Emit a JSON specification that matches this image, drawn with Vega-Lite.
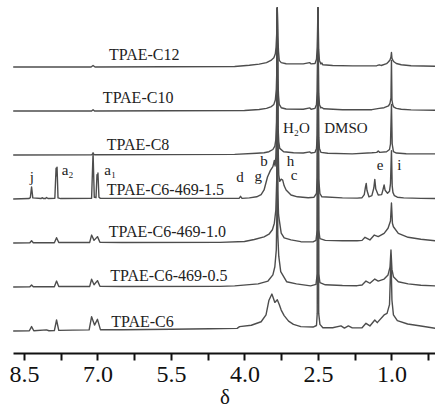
{
"$schema": "https://vega.github.io/schema/vega-lite/v6.json",
"padding": {"left": 8, "top": 7, "right": 0, "bottom": 0},
"background": "white",
"bounds": "flush",
"data": {"values": [
{"s":"TPAE-C12","x":8.72,"y":0},{"s":"TPAE-C12","x":7.13,"y":0},{"s":"TPAE-C12","x":7.09,"y":0.07},{"s":"TPAE-C12","x":7.05,"y":0},{"s":"TPAE-C12","x":4.2,"y":0.02},{"s":"TPAE-C12","x":3.9,"y":0.08},{"s":"TPAE-C12","x":3.7,"y":0.13},{"s":"TPAE-C12","x":3.55,"y":0.2},{"s":"TPAE-C12","x":3.46,"y":0.3},{"s":"TPAE-C12","x":3.4,"y":0.42},{"s":"TPAE-C12","x":3.37,"y":0.6},{"s":"TPAE-C12","x":3.355,"y":0.9},{"s":"TPAE-C12","x":3.34,"y":1.6},{"s":"TPAE-C12","x":3.33,"y":2.68},{"s":"TPAE-C12","x":3.32,"y":1.4},{"s":"TPAE-C12","x":3.305,"y":0.7},{"s":"TPAE-C12","x":3.29,"y":0.3},{"s":"TPAE-C12","x":3.25,"y":0.2},{"s":"TPAE-C12","x":3.15,"y":0.15},{"s":"TPAE-C12","x":2.8,"y":0.14},{"s":"TPAE-C12","x":2.67,"y":0.2},{"s":"TPAE-C12","x":2.64,"y":0.14},{"s":"TPAE-C12","x":2.56,"y":0.16},{"s":"TPAE-C12","x":2.53,"y":0.35},{"s":"TPAE-C12","x":2.515,"y":0.9},{"s":"TPAE-C12","x":2.5,"y":2.68},{"s":"TPAE-C12","x":2.485,"y":0.8},{"s":"TPAE-C12","x":2.47,"y":0.3},{"s":"TPAE-C12","x":2.44,"y":0.14},{"s":"TPAE-C12","x":2.42,"y":0.18},{"s":"TPAE-C12","x":2.4,"y":0.1},{"s":"TPAE-C12","x":2.2,"y":0.07},{"s":"TPAE-C12","x":1.8,"y":0.05},{"s":"TPAE-C12","x":1.3,"y":0.06},{"s":"TPAE-C12","x":1.25,"y":0.1},{"s":"TPAE-C12","x":1.21,"y":0.07},{"s":"TPAE-C12","x":1.1,"y":0.15},{"s":"TPAE-C12","x":1.06,"y":0.24},{"s":"TPAE-C12","x":1.03,"y":0.32},{"s":"TPAE-C12","x":1.01,"y":0.45},{"s":"TPAE-C12","x":1.0,"y":0.66},{"s":"TPAE-C12","x":0.99,"y":0.4},{"s":"TPAE-C12","x":0.97,"y":0.3},{"s":"TPAE-C12","x":0.95,"y":0.24},{"s":"TPAE-C12","x":0.9,"y":0.16},{"s":"TPAE-C12","x":0.8,"y":0.1},{"s":"TPAE-C12","x":0.6,"y":0.06},{"s":"TPAE-C12","x":0.09,"y":0.03},

{"s":"TPAE-C10","x":8.72,"y":0},{"s":"TPAE-C10","x":7.12,"y":0},{"s":"TPAE-C10","x":7.09,"y":0.06},{"s":"TPAE-C10","x":7.06,"y":0},{"s":"TPAE-C10","x":4.0,"y":0.02},{"s":"TPAE-C10","x":3.7,"y":0.07},{"s":"TPAE-C10","x":3.55,"y":0.12},{"s":"TPAE-C10","x":3.45,"y":0.2},{"s":"TPAE-C10","x":3.4,"y":0.3},{"s":"TPAE-C10","x":3.37,"y":0.5},{"s":"TPAE-C10","x":3.35,"y":1.0},{"s":"TPAE-C10","x":3.34,"y":1.8},{"s":"TPAE-C10","x":3.33,"y":4.68},{"s":"TPAE-C10","x":3.32,"y":1.5},{"s":"TPAE-C10","x":3.305,"y":0.7},{"s":"TPAE-C10","x":3.29,"y":0.3},{"s":"TPAE-C10","x":3.25,"y":0.15},{"s":"TPAE-C10","x":3.15,"y":0.09},{"s":"TPAE-C10","x":2.8,"y":0.08},{"s":"TPAE-C10","x":2.665,"y":0.14},{"s":"TPAE-C10","x":2.64,"y":0.08},{"s":"TPAE-C10","x":2.56,"y":0.12},{"s":"TPAE-C10","x":2.53,"y":0.3},{"s":"TPAE-C10","x":2.515,"y":0.9},{"s":"TPAE-C10","x":2.5,"y":4.68},{"s":"TPAE-C10","x":2.485,"y":0.8},{"s":"TPAE-C10","x":2.47,"y":0.3},{"s":"TPAE-C10","x":2.44,"y":0.14},{"s":"TPAE-C10","x":2.42,"y":0.16},{"s":"TPAE-C10","x":2.38,"y":0.1},{"s":"TPAE-C10","x":2.0,"y":0.06},{"s":"TPAE-C10","x":1.4,"y":0.06},{"s":"TPAE-C10","x":1.25,"y":0.12},{"s":"TPAE-C10","x":1.15,"y":0.15},{"s":"TPAE-C10","x":1.06,"y":0.23},{"s":"TPAE-C10","x":1.03,"y":0.35},{"s":"TPAE-C10","x":1.01,"y":0.6},{"s":"TPAE-C10","x":1.0,"y":2.3},{"s":"TPAE-C10","x":0.99,"y":0.5},{"s":"TPAE-C10","x":0.97,"y":0.25},{"s":"TPAE-C10","x":0.95,"y":0.18},{"s":"TPAE-C10","x":0.9,"y":0.12},{"s":"TPAE-C10","x":0.8,"y":0.08},{"s":"TPAE-C10","x":0.6,"y":0.05},{"s":"TPAE-C10","x":0.09,"y":0.03},

{"s":"TPAE-C8","x":8.72,"y":0},{"s":"TPAE-C8","x":7.12,"y":0.01},{"s":"TPAE-C8","x":7.09,"y":0.06},{"s":"TPAE-C8","x":7.06,"y":0.01},{"s":"TPAE-C8","x":4.2,"y":0.03},{"s":"TPAE-C8","x":3.75,"y":0.08},{"s":"TPAE-C8","x":3.6,"y":0.1},{"s":"TPAE-C8","x":3.5,"y":0.15},{"s":"TPAE-C8","x":3.42,"y":0.25},{"s":"TPAE-C8","x":3.38,"y":0.4},{"s":"TPAE-C8","x":3.36,"y":0.7},{"s":"TPAE-C8","x":3.345,"y":1.5},{"s":"TPAE-C8","x":3.33,"y":6.68},{"s":"TPAE-C8","x":3.315,"y":1.3},{"s":"TPAE-C8","x":3.3,"y":0.6},{"s":"TPAE-C8","x":3.28,"y":0.3},{"s":"TPAE-C8","x":3.2,"y":0.15},{"s":"TPAE-C8","x":3.0,"y":0.1},{"s":"TPAE-C8","x":2.8,"y":0.09},{"s":"TPAE-C8","x":2.665,"y":0.14},{"s":"TPAE-C8","x":2.64,"y":0.09},{"s":"TPAE-C8","x":2.56,"y":0.12},{"s":"TPAE-C8","x":2.53,"y":0.3},{"s":"TPAE-C8","x":2.515,"y":0.9},{"s":"TPAE-C8","x":2.5,"y":6.68},{"s":"TPAE-C8","x":2.485,"y":0.8},{"s":"TPAE-C8","x":2.47,"y":0.3},{"s":"TPAE-C8","x":2.44,"y":0.12},{"s":"TPAE-C8","x":2.3,"y":0.08},{"s":"TPAE-C8","x":1.8,"y":0.05},{"s":"TPAE-C8","x":1.4,"y":0.1},{"s":"TPAE-C8","x":1.3,"y":0.12},{"s":"TPAE-C8","x":1.27,"y":0.18},{"s":"TPAE-C8","x":1.24,"y":0.12},{"s":"TPAE-C8","x":1.1,"y":0.15},{"s":"TPAE-C8","x":1.04,"y":0.25},{"s":"TPAE-C8","x":1.02,"y":0.5},{"s":"TPAE-C8","x":1.0,"y":2.3},{"s":"TPAE-C8","x":0.985,"y":0.5},{"s":"TPAE-C8","x":0.96,"y":0.15},{"s":"TPAE-C8","x":0.9,"y":0.09},{"s":"TPAE-C8","x":0.7,"y":0.06},{"s":"TPAE-C8","x":0.09,"y":0.05},

{"s":"TPAE-C6-469-1.5","x":8.72,"y":0},{"s":"TPAE-C6-469-1.5","x":8.4,"y":0.02},{"s":"TPAE-C6-469-1.5","x":8.37,"y":0.06},{"s":"TPAE-C6-469-1.5","x":8.345,"y":0.55},{"s":"TPAE-C6-469-1.5","x":8.32,"y":0.05},{"s":"TPAE-C6-469-1.5","x":8.15,"y":0.02},{"s":"TPAE-C6-469-1.5","x":8.13,"y":0.06},{"s":"TPAE-C6-469-1.5","x":8.1,"y":0.02},{"s":"TPAE-C6-469-1.5","x":8.06,"y":0.02},{"s":"TPAE-C6-469-1.5","x":8.04,"y":0.07},{"s":"TPAE-C6-469-1.5","x":8.01,"y":0.02},{"s":"TPAE-C6-469-1.5","x":7.87,"y":0.03},{"s":"TPAE-C6-469-1.5","x":7.845,"y":1.4},{"s":"TPAE-C6-469-1.5","x":7.835,"y":1.05},{"s":"TPAE-C6-469-1.5","x":7.825,"y":1.45},{"s":"TPAE-C6-469-1.5","x":7.805,"y":0.05},{"s":"TPAE-C6-469-1.5","x":7.75,"y":0.02},{"s":"TPAE-C6-469-1.5","x":7.12,"y":0.03},{"s":"TPAE-C6-469-1.5","x":7.09,"y":2.1},{"s":"TPAE-C6-469-1.5","x":7.065,"y":0.08},{"s":"TPAE-C6-469-1.5","x":7.03,"y":0.06},{"s":"TPAE-C6-469-1.5","x":7.01,"y":1.1},{"s":"TPAE-C6-469-1.5","x":7.0,"y":0.9},{"s":"TPAE-C6-469-1.5","x":6.99,"y":1.18},{"s":"TPAE-C6-469-1.5","x":6.97,"y":0.08},{"s":"TPAE-C6-469-1.5","x":6.94,"y":0.03},{"s":"TPAE-C6-469-1.5","x":4.2,"y":0.03},{"s":"TPAE-C6-469-1.5","x":4.11,"y":0.03},{"s":"TPAE-C6-469-1.5","x":4.08,"y":0.12},{"s":"TPAE-C6-469-1.5","x":4.05,"y":0.03},{"s":"TPAE-C6-469-1.5","x":3.9,"y":0.05},{"s":"TPAE-C6-469-1.5","x":3.75,"y":0.1},{"s":"TPAE-C6-469-1.5","x":3.66,"y":0.2},{"s":"TPAE-C6-469-1.5","x":3.6,"y":0.41},{"s":"TPAE-C6-469-1.5","x":3.53,"y":1.0},{"s":"TPAE-C6-469-1.5","x":3.47,"y":1.3},{"s":"TPAE-C6-469-1.5","x":3.42,"y":1.47},{"s":"TPAE-C6-469-1.5","x":3.39,"y":1.75},{"s":"TPAE-C6-469-1.5","x":3.375,"y":1.5},{"s":"TPAE-C6-469-1.5","x":3.36,"y":1.9},{"s":"TPAE-C6-469-1.5","x":3.345,"y":3.0},{"s":"TPAE-C6-469-1.5","x":3.33,"y":8.68},{"s":"TPAE-C6-469-1.5","x":3.315,"y":2.6},{"s":"TPAE-C6-469-1.5","x":3.3,"y":1.1},{"s":"TPAE-C6-469-1.5","x":3.28,"y":0.8},{"s":"TPAE-C6-469-1.5","x":3.25,"y":0.9},{"s":"TPAE-C6-469-1.5","x":3.22,"y":0.86},{"s":"TPAE-C6-469-1.5","x":3.19,"y":0.6},{"s":"TPAE-C6-469-1.5","x":3.15,"y":0.41},{"s":"TPAE-C6-469-1.5","x":3.05,"y":0.18},{"s":"TPAE-C6-469-1.5","x":2.92,"y":0.1},{"s":"TPAE-C6-469-1.5","x":2.7,"y":0.06},{"s":"TPAE-C6-469-1.5","x":2.58,"y":0.08},{"s":"TPAE-C6-469-1.5","x":2.53,"y":0.25},{"s":"TPAE-C6-469-1.5","x":2.515,"y":1.0},{"s":"TPAE-C6-469-1.5","x":2.5,"y":8.68},{"s":"TPAE-C6-469-1.5","x":2.485,"y":0.9},{"s":"TPAE-C6-469-1.5","x":2.46,"y":0.25},{"s":"TPAE-C6-469-1.5","x":2.42,"y":0.1},{"s":"TPAE-C6-469-1.5","x":2.0,"y":0.05},{"s":"TPAE-C6-469-1.5","x":1.7,"y":0.04},{"s":"TPAE-C6-469-1.5","x":1.6,"y":0.06},{"s":"TPAE-C6-469-1.5","x":1.555,"y":0.2},{"s":"TPAE-C6-469-1.5","x":1.53,"y":0.55},{"s":"TPAE-C6-469-1.5","x":1.515,"y":0.71},{"s":"TPAE-C6-469-1.5","x":1.5,"y":0.4},{"s":"TPAE-C6-469-1.5","x":1.46,"y":0.1},{"s":"TPAE-C6-469-1.5","x":1.4,"y":0.15},{"s":"TPAE-C6-469-1.5","x":1.36,"y":0.5},{"s":"TPAE-C6-469-1.5","x":1.34,"y":0.89},{"s":"TPAE-C6-469-1.5","x":1.32,"y":0.45},{"s":"TPAE-C6-469-1.5","x":1.27,"y":0.18},{"s":"TPAE-C6-469-1.5","x":1.2,"y":0.2},{"s":"TPAE-C6-469-1.5","x":1.17,"y":0.45},{"s":"TPAE-C6-469-1.5","x":1.15,"y":0.64},{"s":"TPAE-C6-469-1.5","x":1.13,"y":0.4},{"s":"TPAE-C6-469-1.5","x":1.08,"y":0.26},{"s":"TPAE-C6-469-1.5","x":1.04,"y":0.35},{"s":"TPAE-C6-469-1.5","x":1.02,"y":0.7},{"s":"TPAE-C6-469-1.5","x":1.0,"y":2.2},{"s":"TPAE-C6-469-1.5","x":0.985,"y":0.6},{"s":"TPAE-C6-469-1.5","x":0.97,"y":0.3},{"s":"TPAE-C6-469-1.5","x":0.94,"y":0.15},{"s":"TPAE-C6-469-1.5","x":0.88,"y":0.08},{"s":"TPAE-C6-469-1.5","x":0.75,"y":0.05},{"s":"TPAE-C6-469-1.5","x":0.4,"y":0.03},{"s":"TPAE-C6-469-1.5","x":0.09,"y":0.02},

{"s":"TPAE-C6-469-1.0","x":8.72,"y":0},{"s":"TPAE-C6-469-1.0","x":8.38,"y":0.01},{"s":"TPAE-C6-469-1.0","x":8.345,"y":0.1},{"s":"TPAE-C6-469-1.0","x":8.31,"y":0.01},{"s":"TPAE-C6-469-1.0","x":7.88,"y":0.01},{"s":"TPAE-C6-469-1.0","x":7.835,"y":0.24},{"s":"TPAE-C6-469-1.0","x":7.79,"y":0.02},{"s":"TPAE-C6-469-1.0","x":7.16,"y":0.02},{"s":"TPAE-C6-469-1.0","x":7.12,"y":0.36},{"s":"TPAE-C6-469-1.0","x":7.07,"y":0.12},{"s":"TPAE-C6-469-1.0","x":7.0,"y":0.29},{"s":"TPAE-C6-469-1.0","x":6.95,"y":0.03},{"s":"TPAE-C6-469-1.0","x":6.5,"y":0.02},{"s":"TPAE-C6-469-1.0","x":4.5,"y":0.03},{"s":"TPAE-C6-469-1.0","x":4.0,"y":0.07},{"s":"TPAE-C6-469-1.0","x":3.8,"y":0.16},{"s":"TPAE-C6-469-1.0","x":3.6,"y":0.28},{"s":"TPAE-C6-469-1.0","x":3.5,"y":0.4},{"s":"TPAE-C6-469-1.0","x":3.43,"y":0.6},{"s":"TPAE-C6-469-1.0","x":3.39,"y":0.9},{"s":"TPAE-C6-469-1.0","x":3.36,"y":1.5},{"s":"TPAE-C6-469-1.0","x":3.34,"y":3.0},{"s":"TPAE-C6-469-1.0","x":3.33,"y":10.68},{"s":"TPAE-C6-469-1.0","x":3.32,"y":2.4},{"s":"TPAE-C6-469-1.0","x":3.305,"y":1.3},{"s":"TPAE-C6-469-1.0","x":3.29,"y":1.05},{"s":"TPAE-C6-469-1.0","x":3.25,"y":0.45},{"s":"TPAE-C6-469-1.0","x":3.19,"y":0.23},{"s":"TPAE-C6-469-1.0","x":3.05,"y":0.14},{"s":"TPAE-C6-469-1.0","x":2.85,"y":0.06},{"s":"TPAE-C6-469-1.0","x":2.6,"y":0.05},{"s":"TPAE-C6-469-1.0","x":2.54,"y":0.12},{"s":"TPAE-C6-469-1.0","x":2.515,"y":0.6},{"s":"TPAE-C6-469-1.0","x":2.5,"y":10.68},{"s":"TPAE-C6-469-1.0","x":2.485,"y":0.6},{"s":"TPAE-C6-469-1.0","x":2.46,"y":0.2},{"s":"TPAE-C6-469-1.0","x":2.35,"y":0.12},{"s":"TPAE-C6-469-1.0","x":2.0,"y":0.1},{"s":"TPAE-C6-469-1.0","x":1.7,"y":0.1},{"s":"TPAE-C6-469-1.0","x":1.6,"y":0.12},{"s":"TPAE-C6-469-1.0","x":1.54,"y":0.26},{"s":"TPAE-C6-469-1.0","x":1.44,"y":0.14},{"s":"TPAE-C6-469-1.0","x":1.35,"y":0.36},{"s":"TPAE-C6-469-1.0","x":1.27,"y":0.29},{"s":"TPAE-C6-469-1.0","x":1.15,"y":0.44},{"s":"TPAE-C6-469-1.0","x":1.07,"y":0.67},{"s":"TPAE-C6-469-1.0","x":1.02,"y":1.0},{"s":"TPAE-C6-469-1.0","x":1.0,"y":1.82},{"s":"TPAE-C6-469-1.0","x":0.98,"y":0.9},{"s":"TPAE-C6-469-1.0","x":0.96,"y":0.74},{"s":"TPAE-C6-469-1.0","x":0.86,"y":0.44},{"s":"TPAE-C6-469-1.0","x":0.66,"y":0.26},{"s":"TPAE-C6-469-1.0","x":0.4,"y":0.17},{"s":"TPAE-C6-469-1.0","x":0.09,"y":0.1},

{"s":"TPAE-C6-469-0.5","x":8.72,"y":0},{"s":"TPAE-C6-469-0.5","x":8.38,"y":0.01},{"s":"TPAE-C6-469-0.5","x":8.345,"y":0.09},{"s":"TPAE-C6-469-0.5","x":8.31,"y":0.01},{"s":"TPAE-C6-469-0.5","x":7.88,"y":0.01},{"s":"TPAE-C6-469-0.5","x":7.835,"y":0.27},{"s":"TPAE-C6-469-0.5","x":7.79,"y":0.02},{"s":"TPAE-C6-469-0.5","x":7.16,"y":0.02},{"s":"TPAE-C6-469-0.5","x":7.12,"y":0.35},{"s":"TPAE-C6-469-0.5","x":7.07,"y":0.1},{"s":"TPAE-C6-469-0.5","x":7.0,"y":0.29},{"s":"TPAE-C6-469-0.5","x":6.95,"y":0.03},{"s":"TPAE-C6-469-0.5","x":6.5,"y":0.02},{"s":"TPAE-C6-469-0.5","x":4.5,"y":0.03},{"s":"TPAE-C6-469-0.5","x":4.2,"y":0.05},{"s":"TPAE-C6-469-0.5","x":3.72,"y":0.14},{"s":"TPAE-C6-469-0.5","x":3.52,"y":0.27},{"s":"TPAE-C6-469-0.5","x":3.42,"y":0.55},{"s":"TPAE-C6-469-0.5","x":3.38,"y":0.92},{"s":"TPAE-C6-469-0.5","x":3.35,"y":1.7},{"s":"TPAE-C6-469-0.5","x":3.34,"y":3.2},{"s":"TPAE-C6-469-0.5","x":3.33,"y":12.68},{"s":"TPAE-C6-469-0.5","x":3.32,"y":2.4},{"s":"TPAE-C6-469-0.5","x":3.3,"y":1.4},{"s":"TPAE-C6-469-0.5","x":3.26,"y":0.7},{"s":"TPAE-C6-469-0.5","x":3.14,"y":0.24},{"s":"TPAE-C6-469-0.5","x":2.94,"y":0.14},{"s":"TPAE-C6-469-0.5","x":2.65,"y":0.05},{"s":"TPAE-C6-469-0.5","x":2.54,"y":0.12},{"s":"TPAE-C6-469-0.5","x":2.515,"y":0.6},{"s":"TPAE-C6-469-0.5","x":2.5,"y":12.68},{"s":"TPAE-C6-469-0.5","x":2.485,"y":0.6},{"s":"TPAE-C6-469-0.5","x":2.46,"y":0.2},{"s":"TPAE-C6-469-0.5","x":2.35,"y":0.1},{"s":"TPAE-C6-469-0.5","x":2.0,"y":0.07},{"s":"TPAE-C6-469-0.5","x":1.7,"y":0.06},{"s":"TPAE-C6-469-0.5","x":1.6,"y":0.09},{"s":"TPAE-C6-469-0.5","x":1.52,"y":0.27},{"s":"TPAE-C6-469-0.5","x":1.44,"y":0.17},{"s":"TPAE-C6-469-0.5","x":1.34,"y":0.36},{"s":"TPAE-C6-469-0.5","x":1.27,"y":0.27},{"s":"TPAE-C6-469-0.5","x":1.15,"y":0.36},{"s":"TPAE-C6-469-0.5","x":1.07,"y":0.55},{"s":"TPAE-C6-469-0.5","x":1.03,"y":0.9},{"s":"TPAE-C6-469-0.5","x":1.01,"y":1.68},{"s":"TPAE-C6-469-0.5","x":0.99,"y":0.8},{"s":"TPAE-C6-469-0.5","x":0.96,"y":0.47},{"s":"TPAE-C6-469-0.5","x":0.86,"y":0.24},{"s":"TPAE-C6-469-0.5","x":0.66,"y":0.14},{"s":"TPAE-C6-469-0.5","x":0.4,"y":0.08},{"s":"TPAE-C6-469-0.5","x":0.09,"y":0.05},

{"s":"TPAE-C6","x":8.72,"y":0},{"s":"TPAE-C6","x":8.39,"y":0.01},{"s":"TPAE-C6","x":8.345,"y":0.2},{"s":"TPAE-C6","x":8.3,"y":0.01},{"s":"TPAE-C6","x":8.04,"y":0.05},{"s":"TPAE-C6","x":7.99,"y":0.01},{"s":"TPAE-C6","x":7.88,"y":0.02},{"s":"TPAE-C6","x":7.835,"y":0.5},{"s":"TPAE-C6","x":7.79,"y":0.03},{"s":"TPAE-C6","x":7.5,"y":0.04},{"s":"TPAE-C6","x":7.17,"y":0.05},{"s":"TPAE-C6","x":7.12,"y":0.65},{"s":"TPAE-C6","x":7.06,"y":0.27},{"s":"TPAE-C6","x":7.0,"y":0.53},{"s":"TPAE-C6","x":6.94,"y":0.06},{"s":"TPAE-C6","x":6.5,"y":0.06},{"s":"TPAE-C6","x":5.5,"y":0.08},{"s":"TPAE-C6","x":4.7,"y":0.1},{"s":"TPAE-C6","x":4.15,"y":0.12},{"s":"TPAE-C6","x":4.1,"y":0.2},{"s":"TPAE-C6","x":3.86,"y":0.26},{"s":"TPAE-C6","x":3.66,"y":0.42},{"s":"TPAE-C6","x":3.56,"y":0.73},{"s":"TPAE-C6","x":3.5,"y":1.4},{"s":"TPAE-C6","x":3.44,"y":1.68},{"s":"TPAE-C6","x":3.38,"y":1.3},{"s":"TPAE-C6","x":3.33,"y":1.42},{"s":"TPAE-C6","x":3.29,"y":1.2},{"s":"TPAE-C6","x":3.25,"y":0.95},{"s":"TPAE-C6","x":3.19,"y":0.7},{"s":"TPAE-C6","x":3.1,"y":0.45},{"s":"TPAE-C6","x":3.0,"y":0.3},{"s":"TPAE-C6","x":2.85,"y":0.2},{"s":"TPAE-C6","x":2.6,"y":0.18},{"s":"TPAE-C6","x":2.53,"y":0.25},{"s":"TPAE-C6","x":2.515,"y":0.8},{"s":"TPAE-C6","x":2.5,"y":14.68},{"s":"TPAE-C6","x":2.485,"y":0.8},{"s":"TPAE-C6","x":2.46,"y":0.3},{"s":"TPAE-C6","x":2.4,"y":0.15},{"s":"TPAE-C6","x":2.2,"y":0.15},{"s":"TPAE-C6","x":2.03,"y":0.23},{"s":"TPAE-C6","x":1.96,"y":0.13},{"s":"TPAE-C6","x":1.88,"y":0.23},{"s":"TPAE-C6","x":1.8,"y":0.14},{"s":"TPAE-C6","x":1.6,"y":0.15},{"s":"TPAE-C6","x":1.52,"y":0.35},{"s":"TPAE-C6","x":1.44,"y":0.23},{"s":"TPAE-C6","x":1.34,"y":0.5},{"s":"TPAE-C6","x":1.29,"y":0.38},{"s":"TPAE-C6","x":1.15,"y":0.73},{"s":"TPAE-C6","x":1.09,"y":0.8},{"s":"TPAE-C6","x":1.04,"y":1.2},{"s":"TPAE-C6","x":1.01,"y":3.4},{"s":"TPAE-C6","x":0.99,"y":1.4},{"s":"TPAE-C6","x":0.96,"y":0.73},{"s":"TPAE-C6","x":0.88,"y":0.47},{"s":"TPAE-C6","x":0.67,"y":0.32},{"s":"TPAE-C6","x":0.4,"y":0.23},{"s":"TPAE-C6","x":0.09,"y":0.12},

{"s":"TPAE-C12","k":"lab","x":6.765,"y":0.32,"t":"TPAE-C12"},
{"s":"TPAE-C10","k":"lab","x":6.89,"y":0.36,"t":"TPAE-C10"},
{"s":"TPAE-C8","k":"lab","x":6.81,"y":0.23,"t":"TPAE-C8"},
{"s":"TPAE-C6-469-1.5","k":"lab","x":6.81,"y":0.18,"t":"TPAE-C6-469-1.5"},
{"s":"TPAE-C6-469-1.0","k":"lab","x":6.77,"y":0.27,"t":"TPAE-C6-469-1.0"},
{"s":"TPAE-C6-469-0.5","k":"lab","x":6.74,"y":0.27,"t":"TPAE-C6-469-0.5"},
{"s":"TPAE-C6","k":"lab","x":6.72,"y":0.18,"t":"TPAE-C6"},
{"s":"TPAE-C6-469-1.5","k":"note","x":8.34,"y":0.77,"t":"j"},
{"s":"TPAE-C6-469-1.5","k":"note","x":7.61,"y":1.09,"t":"a₂"},
{"s":"TPAE-C6-469-1.5","k":"note","x":6.74,"y":1.09,"t":"a₁"},
{"s":"TPAE-C6-469-1.5","k":"note","x":4.09,"y":0.77,"t":"d"},
{"s":"TPAE-C6-469-1.5","k":"note","x":3.72,"y":0.82,"t":"g"},
{"s":"TPAE-C6-469-1.5","k":"note","x":3.6,"y":1.5,"t":"b"},
{"s":"TPAE-C6-469-1.5","k":"note","x":3.06,"y":1.5,"t":"h"},
{"s":"TPAE-C6-469-1.5","k":"note","x":2.99,"y":0.86,"t":"c"},
{"s":"TPAE-C6-469-1.5","k":"note","x":1.23,"y":1.32,"t":"e"},
{"s":"TPAE-C6-469-1.5","k":"note","x":0.84,"y":1.32,"t":"i"},
{"s":"TPAE-C8","k":"note","x":2.94,"y":1.0,"t":"H₂O"},
{"s":"TPAE-C8","k":"note","x":1.93,"y":1.0,"t":"DMSO"}
]},
"facet": {"row": {"field": "s", "type": "nominal", "title": null,
  "sort": ["TPAE-C12","TPAE-C10","TPAE-C8","TPAE-C6-469-1.5","TPAE-C6-469-1.0","TPAE-C6-469-0.5","TPAE-C6"],
  "header": {"labels": false, "title": null}}},
"spacing": {"row": 0},
"spec": {
  "width": 423, "height": 44,
  "encoding": {
    "x": {"field": "x", "type": "quantitative",
      "scale": {"domain": [8.724, 0.091], "nice": false, "zero": false},
      "axis": {"values": [8.5,7.75,7,6.25,5.5,4.75,4,3.25,2.5,1.75,1,0.25],
        "labelExpr": "indexof([8.5,7,5.5,4,2.5,1], datum.value) >= 0 ? format(datum.value, '.1f') : ''",
        "title": "δ", "grid": false, "labelOverlap": false, "labelFlush": false,
        "domainColor": "#111", "domainWidth": 2, "tickColor": "#111", "tickWidth": 2, "tickSize": 7,
        "labelFont": "Liberation Serif", "labelFontSize": 24, "labelColor": "#111", "labelPadding": 2,
        "titleFont": "Liberation Serif", "titleFontSize": 21, "titleFontWeight": "normal", "titleColor": "#111", "titlePadding": 0}},
    "y": {"field": "y", "type": "quantitative", "scale": {"domain": [-1, 1], "nice": false, "zero": false}, "axis": null}
  },
  "layer": [
    {"transform": [{"filter": "!datum.k"}],
     "mark": {"type": "line", "stroke": "#4d4d4d", "strokeWidth": 1.4, "strokeJoin": "round"}},
    {"transform": [{"filter": "datum.k == 'lab'"}],
     "mark": {"type": "text", "align": "left", "baseline": "alphabetic", "font": "Liberation Serif", "fontSize": 16, "fill": "#222"},
     "encoding": {"text": {"field": "t"}}},
    {"transform": [{"filter": "datum.k == 'note'"}],
     "mark": {"type": "text", "align": "center", "baseline": "alphabetic", "font": "Liberation Serif", "fontSize": 15, "fill": "#222"},
     "encoding": {"text": {"field": "t"}}}
  ]
},
"config": {"view": {"stroke": null}}
}
